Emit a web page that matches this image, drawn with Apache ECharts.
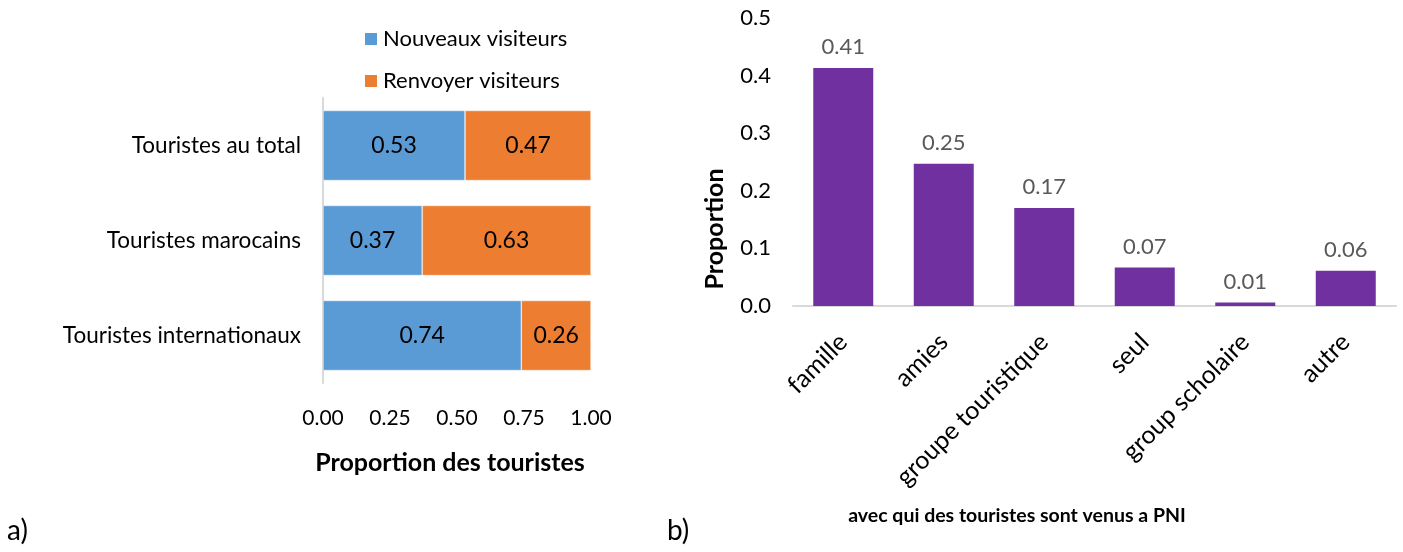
<!DOCTYPE html>
<html>
<head>
<meta charset="utf-8">
<script src="https://cdn.jsdelivr.net/npm/echarts@6/dist/echarts.min.js"></script>
<style>
  html, body { margin: 0; padding: 0; background: #fff; }
  #chart { width: 1403px; height: 552px; }
</style>
</head>
<body>
<div id="chart"></div>
<script>
// a) nouveaux / renvoyer visiteurs
const groups = ['Touristes au total', 'Touristes marocains', 'Touristes internationaux']
const nouveaux = [0.53, 0.37, 0.74]
const renvoyer = [0.47, 0.63, 0.26]

// b) avec qui
const compagnie = ['famille', 'amies', 'groupe touristique', 'seul', 'group scholaire', 'autre']
const proportion = [0.413, 0.247, 0.17, 0.067, 0.006, 0.061]

const font = 'Lato'
const chart = echarts.init(document.getElementById('chart'))

chart.setOption({
  animation: false,
  textStyle: { fontFamily: font },
  legend: {
    orient: 'vertical',
    left: 358,
    top: 22,
    itemWidth: 14,
    itemHeight: 14,
    itemGap: 18,
    icon: 'rect',
    textStyle: { fontSize: 22, color: '#000', fontFamily: font, lineHeight: 24 },
    data: ['Nouveaux visiteurs', 'Renvoyer visiteurs']
  },
  grid: [
    { left: 323, width: 268, top: 98, height: 285 },
    { left: 793, width: 603, top: 18, height: 288 }
  ],
  xAxis: [{
    gridIndex: 0,
    type: 'value',
    min: 0,
    max: 1,
    interval: 0.25,
    axisLine: { show: false },
    axisTick: { show: false },
    splitLine: { show: false },
    axisLabel: { fontSize: 21, color: '#000', margin: 25, formatter: v => v.toFixed(2) },
    name: 'Proportion des touristes',
    nameLocation: 'middle',
    nameGap: 67,
    nameTextStyle: { fontSize: 25, fontWeight: 'bold', color: '#000', padding: [0, 14, 0, 0] }
  }, {
    gridIndex: 1,
    type: 'category',
    data: compagnie,
    axisLine: { lineStyle: { color: '#d9d9d9', width: 2 } },
    axisTick: { show: false },
    axisLabel: { fontSize: 25, color: '#000', rotate: 45, margin: 32, interval: 0 }
  }],
  yAxis: [{
    gridIndex: 0,
    type: 'category',
    data: groups,
    inverse: true,
    axisLine: { lineStyle: { color: '#d9d9d9', width: 2 } },
    axisTick: { show: false },
    axisLabel: { fontSize: 22.5, color: '#000', margin: 22 }
  }, {
    gridIndex: 1,
    type: 'value',
    min: 0,
    max: 0.5,
    interval: 0.1,
    axisLine: { show: false },
    axisTick: { show: false },
    splitLine: { show: false },
    axisLabel: { fontSize: 22, color: '#000', margin: 22, formatter: v => v.toFixed(1) }
  }],
  graphic: [
    { type: 'text', left: 7, top: 517, style: { text: 'a)', fontSize: 28, fill: '#000', fontFamily: font } },
    { type: 'text', left: 667, top: 517, style: { text: 'b)', fontSize: 28, fill: '#000', fontFamily: font } },
    {
      type: 'text', x: 715, y: 229, rotation: Math.PI / 2,
      style: { text: 'Proportion', fontSize: 25, fontWeight: 'bold', fill: '#000', fontFamily: font, align: 'center', verticalAlign: 'middle' }
    },
    {
      type: 'text', x: 1017, y: 516,
      style: { text: 'avec qui des touristes sont venus a PNI', fontSize: 19.5, fontWeight: 'bold', fill: '#000', fontFamily: font, align: 'center', verticalAlign: 'middle' }
    }
  ],
  series: [{
    name: 'Nouveaux visiteurs',
    type: 'bar',
    stack: 'visiteurs',
    xAxisIndex: 0,
    yAxisIndex: 0,
    barWidth: 70,
    data: nouveaux,
    itemStyle: { color: '#5b9bd5', borderColor: '#fff', borderWidth: 0.5 },
    label: { show: true, position: 'inside', fontSize: 23, color: '#000', formatter: p => p.value.toFixed(2) }
  }, {
    name: 'Renvoyer visiteurs',
    type: 'bar',
    stack: 'visiteurs',
    xAxisIndex: 0,
    yAxisIndex: 0,
    barWidth: 70,
    data: renvoyer,
    itemStyle: { color: '#ed7d31', borderColor: '#fff', borderWidth: 0.5 },
    label: { show: true, position: 'inside', fontSize: 23, color: '#000', formatter: p => p.value.toFixed(2) }
  }, {
    name: 'Proportion',
    type: 'bar',
    xAxisIndex: 1,
    yAxisIndex: 1,
    barWidth: 60,
    data: proportion,
    itemStyle: { color: '#7030a0' },
    label: { show: true, position: 'top', distance: 10, fontSize: 22, color: '#595959', formatter: p => p.value.toFixed(2) }
  }]
})
</script>
</body>
</html>
